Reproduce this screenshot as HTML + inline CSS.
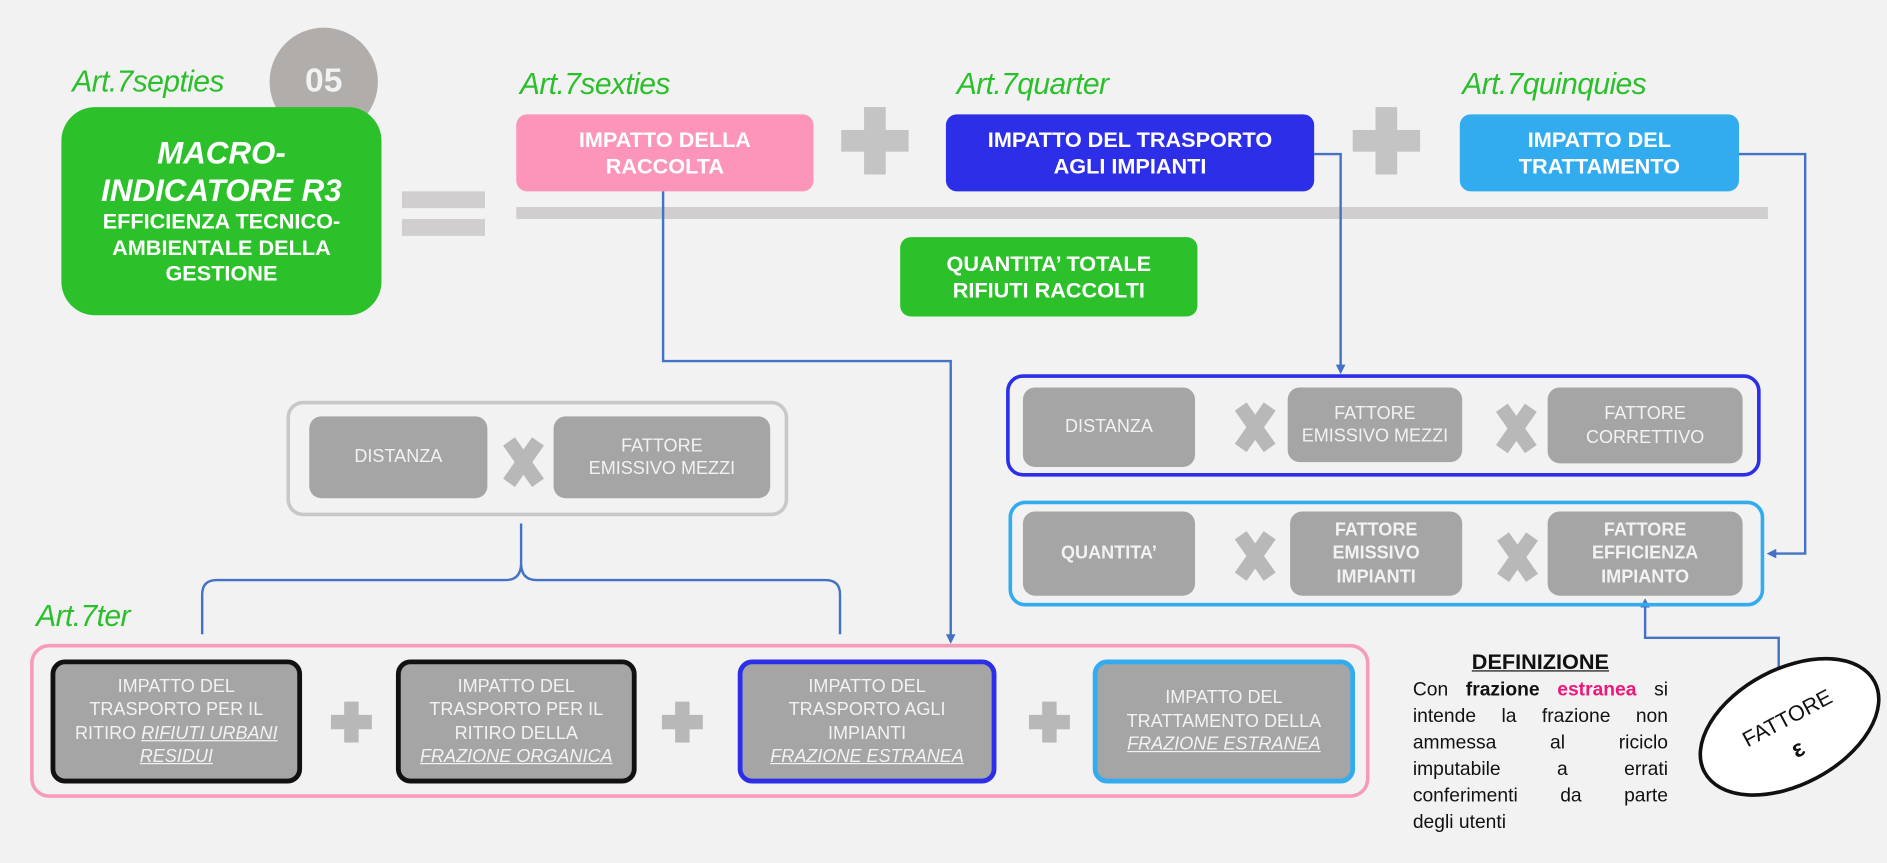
<!DOCTYPE html>
<html><head><meta charset="utf-8"><style>
html,body{margin:0;padding:0;background:#f2f2f2;overflow:hidden}
#w{position:absolute;left:0;top:0;width:1568px;height:717px;transform:scale(1.20345);transform-origin:0 0;font-family:"Liberation Sans",sans-serif}
.a{position:absolute}
.art{position:absolute;color:#2cbf2c;font-style:italic;font-size:25px;letter-spacing:-0.5px}
.box{position:absolute;display:flex;align-items:center;justify-content:center;text-align:center;color:#fff;font-weight:bold;box-sizing:border-box;line-height:1.25}
.g{position:absolute;display:flex;align-items:center;justify-content:center;text-align:center;color:#f2f2f2;background:#a5a5a5;border-radius:10px;box-sizing:border-box;font-size:15px;line-height:1.3}
.plus{position:absolute;width:56px;height:56px}
.plus:before,.plus:after{content:"";position:absolute;background:#c4c4c4}
.plus:before{left:19px;top:0;width:18px;height:56px}
.plus:after{left:0;top:19px;width:56px;height:18px}
.x{position:absolute;width:36px;height:36px}
.x:before,.x:after{content:"";position:absolute;left:12px;top:-3px;width:12px;height:42px;background:#b8b8b8}
.x:before{transform:rotate(35deg)}.x:after{transform:rotate(-35deg)}
.sp{position:absolute;width:34px;height:34px}
.sp:before,.sp:after{content:"";position:absolute;background:#b8b8b8}
.sp:before{left:11px;top:0;width:12px;height:34px}
.sp:after{left:0;top:11px;width:34px;height:12px}
.jl{text-align:justify;text-align-last:justify;white-space:nowrap}
</style></head><body><div id="w">
<div class="a" style="left:224px;top:23px;width:90px;height:90px;border-radius:50%;background:#b0adab;color:#f2f2f2;font-weight:bold;font-size:28px;display:flex;justify-content:center;align-items:center;padding-bottom:2px;box-sizing:border-box">05</div>
<div class="art" style="left:60px;top:54px">Art.7septies</div>
<div class="box" style="left:51px;top:89px;width:266px;height:173px;background:#2cc12a;border-radius:28px;flex-direction:column;line-height:1.2"><div style="font-style:italic;font-size:26px">MACRO-<br>INDICATORE R3</div><div style="font-size:18px">EFFICIENZA TECNICO-<br>AMBIENTALE DELLA<br>GESTIONE</div></div>
<div class="a" style="left:334px;top:159px;width:69px;height:14px;background:#d0cece"></div>
<div class="a" style="left:334px;top:182px;width:69px;height:14px;background:#d0cece"></div>

<div class="art" style="left:432px;top:56px">Art.7sexties</div>
<div class="box" style="left:429px;top:95px;width:247px;height:64px;background:#fc95b9;border-radius:9px;font-size:18px"><div>IMPATTO DELLA<br>RACCOLTA</div></div>
<div class="plus" style="left:699px;top:89px"></div>
<div class="art" style="left:795px;top:56px">Art.7quarter</div>
<div class="box" style="left:786px;top:95px;width:306px;height:64px;background:#2c2ee8;border-radius:9px;font-size:18px"><div>IMPATTO DEL TRASPORTO<br>AGLI IMPIANTI</div></div>
<div class="plus" style="left:1124px;top:89px"></div>
<div class="art" style="left:1215px;top:56px">Art.7quinquies</div>
<div class="box" style="left:1213px;top:95px;width:232px;height:64px;background:#33acef;border-radius:9px;font-size:18px"><div>IMPATTO DEL<br>TRATTAMENTO</div></div>
<div class="a" style="left:429px;top:172px;width:1040px;height:10px;background:#d0cece"></div>
<div class="box" style="left:748px;top:197px;width:247px;height:66px;background:#2cc12a;border-radius:9px;font-size:18px"><div>QUANTITA’ TOTALE<br>RIFIUTI RACCOLTI</div></div>

<svg class="a" style="left:0;top:0" width="1568" height="717">
<defs><marker id="ar" markerWidth="8" markerHeight="8" refX="6" refY="4" orient="auto" markerUnits="userSpaceOnUse"><path d="M0,0 L8,4 L0,8 z" fill="#4472c4"/></marker></defs>
<g fill="none" stroke="#4472c4" stroke-width="2">
<path d="M551,159 V300 H790 V533" marker-end="url(#ar)"/>
<path d="M1092,128 H1114 V309" marker-end="url(#ar)"/>
<path d="M1445,128 H1500 V460 H1470" marker-end="url(#ar)"/>
<path d="M1478,560 V530 H1367 V499" marker-end="url(#ar)"/>
<path d="M168,527 V494 Q168,482 180,482 H420 Q433,482 433,468 V435 M433,468 Q433,482 446,482 H686 Q698,482 698,494 V527"/>
</g>
<ellipse cx="1487" cy="604" rx="80" ry="48" transform="rotate(-28 1487 604)" fill="#fff" stroke="#111" stroke-width="3"/>
<text x="1488" y="602" transform="rotate(-28 1488 602)" text-anchor="middle" font-family="Liberation Sans" font-size="18" fill="#111">FATTORE</text>
<text x="1497" y="628" transform="rotate(-28 1497 628)" text-anchor="middle" font-family="Liberation Sans" font-size="20" font-weight="bold" fill="#111">ε</text>
</svg>

<div class="a" style="left:836px;top:311px;width:627px;height:85px;border:3px solid #2c2ee8;border-radius:14px;box-sizing:border-box"></div>
<div class="g" style="left:850px;top:322px;width:143px;height:66px"><div>DISTANZA</div></div>
<div class="x" style="left:1025px;top:337px"></div>
<div class="g" style="left:1070px;top:322px;width:145px;height:62px"><div>FATTORE<br>EMISSIVO MEZZI</div></div>
<div class="x" style="left:1242px;top:338px"></div>
<div class="g" style="left:1286px;top:322px;width:162px;height:63px"><div>FATTORE<br>CORRETTIVO</div></div>

<div class="a" style="left:838px;top:416px;width:628px;height:88px;border:3px solid #33acef;border-radius:14px;box-sizing:border-box"></div>
<div class="g" style="left:850px;top:425px;width:143px;height:70px;font-weight:bold"><div>QUANTITA’</div></div>
<div class="x" style="left:1025px;top:444px"></div>
<div class="g" style="left:1072px;top:425px;width:143px;height:70px;font-weight:bold"><div>FATTORE<br>EMISSIVO<br>IMPIANTI</div></div>
<div class="x" style="left:1243px;top:445px"></div>
<div class="g" style="left:1286px;top:425px;width:162px;height:70px;font-weight:bold"><div>FATTORE<br>EFFICIENZA<br>IMPIANTO</div></div>

<div class="a" style="left:238px;top:333px;width:417px;height:96px;border:3px solid #c8c8c8;border-radius:14px;box-sizing:border-box"></div>
<div class="g" style="left:257px;top:346px;width:148px;height:68px"><div>DISTANZA</div></div>
<div class="x" style="left:417px;top:366px"></div>
<div class="g" style="left:460px;top:346px;width:180px;height:68px"><div>FATTORE<br>EMISSIVO MEZZI</div></div>

<div class="art" style="left:30px;top:498px">Art.7ter</div>
<div class="a" style="left:25px;top:535px;width:1113px;height:128px;border:3px solid #f79bbb;border-radius:16px;box-sizing:border-box"></div>
<div class="g" style="left:42px;top:548px;width:209px;height:103px;border:4px solid #111;border-radius:12px"><div>IMPATTO DEL<br>TRASPORTO PER IL<br>RITIRO <i><u>RIFIUTI URBANI<br>RESIDUI</u></i></div></div>
<div class="sp" style="left:275px;top:583px"></div>
<div class="g" style="left:329px;top:548px;width:200px;height:103px;border:4px solid #111;border-radius:12px"><div>IMPATTO DEL<br>TRASPORTO PER IL<br>RITIRO DELLA<br><i><u>FRAZIONE ORGANICA</u></i></div></div>
<div class="sp" style="left:550px;top:583px"></div>
<div class="g" style="left:613px;top:548px;width:215px;height:103px;border:4px solid #2c2ee8;border-radius:12px"><div>IMPATTO DEL<br>TRASPORTO AGLI<br>IMPIANTI<br><i><u>FRAZIONE ESTRANEA</u></i></div></div>
<div class="sp" style="left:855px;top:583px"></div>
<div class="g" style="left:908px;top:548px;width:218px;height:103px;border:4px solid #33acef;border-radius:12px"><div>IMPATTO DEL<br>TRATTAMENTO DELLA<br><i><u>FRAZIONE ESTRANEA</u></i></div></div>

<div class="a" style="left:1174px;top:540px;width:212px;text-align:center;font-weight:bold;font-size:18px;text-decoration:underline;color:#111">DEFINIZIONE</div>
<div class="a" style="left:1174px;top:563px;width:212px;font-size:16px;line-height:22px;color:#111">
<div class="jl">Con <b>frazione</b> <b style="color:#f0177a">estranea</b> si</div>
<div class="jl">intende la frazione non</div>
<div class="jl">ammessa al riciclo</div>
<div class="jl">imputabile a errati</div>
<div class="jl">conferimenti da parte</div>
<div>degli utenti</div>
</div>
</div></body></html>
